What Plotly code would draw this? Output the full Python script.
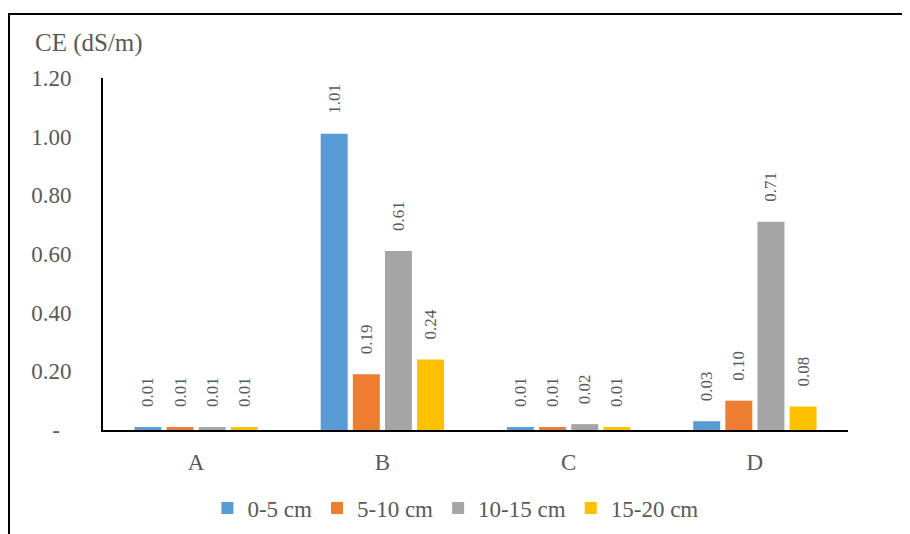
import plotly.graph_objects as go

categories = ["A", "B", "C", "D"]
series_names = ["0-5 cm", "5-10 cm", "10-15 cm", "15-20 cm"]
v_0_5 = [0.01, 1.01, 0.01, 0.03]
v_5_10 = [0.01, 0.19, 0.01, 0.10]
v_10_15 = [0.01, 0.61, 0.02, 0.71]
v_15_20 = [0.01, 0.24, 0.01, 0.08]
colors = ["#5B9BD5", "#ED7D31", "#A5A5A5", "#FFC000"]
tick_vals = [0, 0.2, 0.4, 0.6, 0.8, 1.0, 1.2]
tick_text = ["-\u00a0\u00a0", "0.20", "0.40", "0.60", "0.80", "1.00", "1.20"]

FONT = "Liberation Serif, Times New Roman, serif"
GREY = "#595959"

fig = go.Figure()
for name, vals, col in zip(series_names, [v_0_5, v_5_10, v_10_15, v_15_20], colors):
    fig.add_trace(go.Bar(
        x=categories, y=vals, name=name, marker_color=col,
        marker_line_width=0,
        text=["\u00a0\u00a0\u00a0\u00a0" + f"{v:.2f}" for v in vals],
        textposition="outside", textangle=-90, constraintext="none",
        textfont=dict(family=FONT, size=17, color=GREY),
        cliponaxis=False,
    ))

# target plot-area edges in window pixels; page body adds an 8px offset
OFF = 8
W, H = 910, 534
PL, PR, PT, PB = 103, 848, 78, 430
pw, ph = PR - PL, PB - PT
L, T = PL - OFF, PT - OFF
R = W - (PR - OFF)
B = H - (PB - OFF)


def px(xw):
    return (xw - PL) / pw


def py(yw):
    return (PB - yw) / ph


fig.update_layout(
    width=W, height=H,
    margin=dict(l=L, r=R, t=T, b=B, autoexpand=False),
    paper_bgcolor="white", plot_bgcolor="white",
    barmode="group", bargap=0.31, bargroupgap=0.16,
    font=dict(family=FONT, color=GREY, size=23),
    showlegend=True,
    legend=dict(orientation="h", x=0.473, xanchor="center", y=-0.161, yanchor="top",
                font=dict(family=FONT, size=23, color=GREY), itemclick=False),
    xaxis=dict(showline=True, linecolor="black", linewidth=2, ticks="", automargin=False,
               ticklabelstandoff=10,
               tickfont=dict(family=FONT, size=23, color=GREY), showgrid=False),
    yaxis=dict(range=[0, 1.2], showline=True, linecolor="black", linewidth=2, automargin=False,
               tickvals=tick_vals, ticktext=tick_text, showgrid=False, zeroline=False,
               ticks="", ticklabelstandoff=25,
               tickfont=dict(family=FONT, size=23, color=GREY)),
    annotations=[dict(text="CE (dS/m)", xref="paper", yref="paper",
                      x=px(33), y=py(43), xanchor="left", yanchor="middle",
                      showarrow=False, font=dict(family=FONT, size=25, color=GREY))],
    shapes=[dict(type="rect", xref="paper", yref="paper",
                 x0=px(9), x1=px(925), y0=py(545), y1=py(14),
                 line=dict(color="black", width=2), fillcolor="rgba(0,0,0,0)", layer="below")],
)

fig.write_html("out.html")
